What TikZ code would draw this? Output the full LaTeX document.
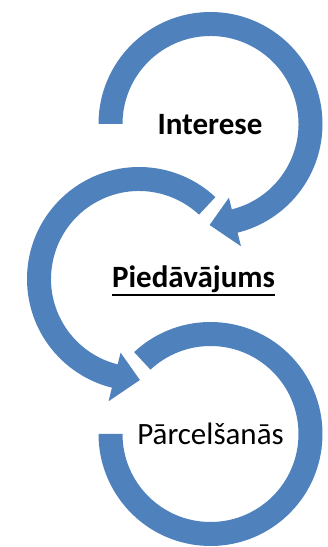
\documentclass[tikz,border=0pt]{standalone}
\usepackage{fontspec}
\setmainfont{Carlito}
\usetikzlibrary{calc}
\definecolor{arcblue}{HTML}{4F81BD}
\begin{document}
\begin{tikzpicture}[x=1pt,y=1pt,
  band/.style={fill=arcblue,draw=none},
  lbl/.style={anchor=base,inner sep=0pt,font=\fontsize{31}{37}\selectfont}]
\useasboundingbox (0,0) rectangle (328,547);
\coordinate (c1) at (210.5,423);
\coordinate (c2) at (139,268);
\coordinate (c3) at (210.5,113);
% arc 1 (top), clockwise with arrowhead
\fill[band] ($(c1)+(180:112)$) arc[start angle=180,end angle=-76,radius=112]
  -- ($(c1)+(-76:126)$) -- ($(c1)+(-90.5:101)$) -- ($(c1)+(-76:76)$)
  -- ($(c1)+(-76:88)$) arc[start angle=-76,end angle=180,radius=88] -- cycle;
% arc 2 (middle), counterclockwise with arrowhead
\fill[band] ($(c2)+(47:112)$) arc[start angle=47,end angle=256,radius=112]
  -- ($(c2)+(256:126)$) -- ($(c2)+(270.5:101)$) -- ($(c2)+(256:76)$)
  -- ($(c2)+(256:88)$) arc[start angle=256,end angle=47,radius=88] -- cycle;
% arc 3 (bottom), clockwise, no arrowhead
\fill[band] ($(c3)+(133:112)$) arc[start angle=133,end angle=-180,radius=112]
  -- ($(c3)+(-180:88)$) arc[start angle=-180,end angle=133,radius=88] -- cycle;
\node[lbl] (t1) at (210,412) {\bfseries Interese};
\node[lbl] (t2) at (193.5,259) {\bfseries Piedāvājums};
\node[lbl] (t3) at (210.5,102) {Pārcelšanās};
\draw[line width=2pt] ([yshift=-7pt]t2.base west) -- ([yshift=-7pt]t2.base east);
\end{tikzpicture}
\end{document}
